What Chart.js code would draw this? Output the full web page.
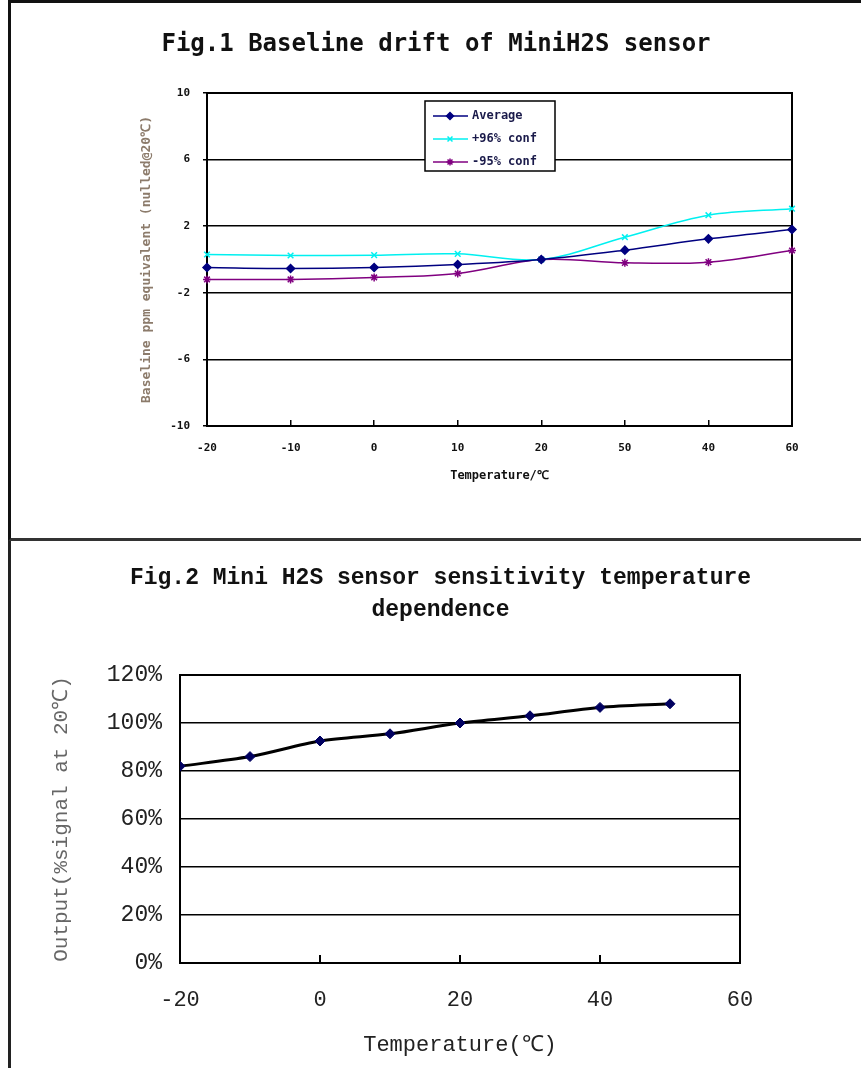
<!DOCTYPE html>
<html>
<head>
<meta charset="utf-8">
<title>MiniH2S sensor charts</title>
<script src="https://cdn.jsdelivr.net/npm/chart.js@4.4.1/dist/chart.umd.min.js"></script>
<style>
  body { margin: 0; background: #fff; width: 861px; height: 1068px; position: relative; overflow: hidden; }
  .box { position: absolute; left: 8px; right: 0; }
  #box1 { top: 0; height: 535px; border-top: 3px solid #111; border-left: 3px solid #111; border-bottom: 3px solid #333; }
  #box2 { top: 541px; bottom: 0; border-left: 3px solid #222; }
  .wrap { position: absolute; left: 0; width: 861px; }
  #wrap1 { top: 0; height: 536px; }
  #wrap2 { top: 541px; height: 527px; }
</style>
</head>
<body>
<div class="box" id="box1"></div>
<div class="box" id="box2"></div>
<div class="wrap" id="wrap1"><canvas id="fig1"></canvas></div>
<div class="wrap" id="wrap2"><canvas id="fig2"></canvas></div>
<script>
// --- Fig.1 data ---
const fig1Temps = ['-20', '-10', '0', '10', '20', '50', '40', '60'];
const fig1Average = [-0.48, -0.54, -0.48, -0.30, 0, 0.56, 1.24, 1.80];
const fig1Plus = [0.30, 0.24, 0.26, 0.34, 0, 1.34, 2.66, 3.05];
const fig1Minus = [-1.20, -1.20, -1.08, -0.84, 0, -0.20, -0.16, 0.54];
const fig1Names = ['Average', '+96% conf', '-95% conf'];

// --- Fig.2 data ---
const fig2Temps = [-20, -10, 0, 10, 20, 30, 40, 50];
const fig2Output = [82, 86, 92.5, 95.5, 100, 103, 106.5, 108];

const mono1 = "'DejaVu Sans Mono', monospace";
const mono2 = "'Liberation Mono', 'DejaVu Sans Mono', monospace";

// box round the plot area
const framePlugin = {
    id: 'frame',
    beforeDatasetsDraw(chart) {
        const a = chart.chartArea;
        const ctx = chart.ctx;
        ctx.save();
        ctx.strokeStyle = '#000';
        ctx.lineWidth = 2;
        ctx.strokeRect(a.left, a.top, a.right - a.left, a.bottom - a.top);
        ctx.restore();
    }
};

// legend drawn inside the plot, as in the original
const boxLegend = {
    id: 'boxLegend',
    afterDraw(chart) {
        const ctx = chart.ctx;
        const a = chart.chartArea;
        const x = a.left + 218, y = a.top + 8, w = 130, h = 70;
        ctx.save();
        ctx.fillStyle = '#fff';
        ctx.fillRect(x, y, w, h);
        ctx.strokeStyle = '#000';
        ctx.lineWidth = 1.5;
        ctx.strokeRect(x, y, w, h);
        chart.data.datasets.forEach((ds, i) => {
            const cy = y + 15 + i * 23;
            ctx.strokeStyle = ds.borderColor;
            ctx.fillStyle = ds.borderColor;
            ctx.lineWidth = 1.5;
            ctx.beginPath();
            ctx.moveTo(x + 8, cy);
            ctx.lineTo(x + 43, cy);
            ctx.stroke();
            Chart.helpers.drawPoint(ctx, { pointStyle: ds.pointStyle, radius: 3.5, borderWidth: 1.5, rotation: 0 }, x + 25, cy);
            ctx.fillStyle = '#1a1a4a';
            ctx.font = "bold 12px " + mono1;
            ctx.textBaseline = 'middle';
            ctx.textAlign = 'left';
            ctx.fillText(ds.label, x + 47, cy);
        });
        ctx.restore();
    }
};

// empty axis on the right, only there to keep room so the title centres on the page
function spacerAxis(w) {
    return {
        position: 'right',
        display: true,
        grid: { display: false },
        border: { display: false },
        ticks: { display: false },
        afterFit(s) { s.width = w; }
    };
}

function makeSeries(label, data, color, style) {
    return {
        label: label,
        data: data,
        borderColor: color,
        backgroundColor: color,
        borderWidth: 1.5,
        tension: 0.35,
        pointStyle: style,
        pointRadius: 4,
        pointBorderWidth: 1.5,
        pointBackgroundColor: color,
        pointBorderColor: color
    };
}

new Chart(document.getElementById('fig1'), {
    type: 'line',
    data: {
        labels: fig1Temps,
        datasets: [
            makeSeries(fig1Names[0], fig1Average, '#000080', 'rectRot'),
            makeSeries(fig1Names[1], fig1Plus, '#00f0f0', 'crossRot'),
            makeSeries(fig1Names[2], fig1Minus, '#800080', 'star')
        ]
    },
    options: {
        responsive: true,
        maintainAspectRatio: false,
        animation: false,
        layout: { padding: { left: 11, right: 0, top: 0, bottom: 0 } },
        plugins: {
            legend: { display: false },
            tooltip: { enabled: false },
            title: {
                display: true,
                text: 'Fig.1 Baseline drift of MiniH2S sensor',
                color: '#111',
                font: { family: mono1, size: 24, weight: 'bold', lineHeight: 1.2 },
                padding: { top: 30.5, bottom: 33.7 }
            }
        },
        scales: {
            x: {
                type: 'category',
                offset: false,
                grid: { drawOnChartArea: false, drawTicks: true, tickLength: -6, color: '#000', lineWidth: 1.5 },
                border: { color: '#000', width: 2 },
                ticks: { padding: 22, color: '#111', maxRotation: 0, autoSkip: false,
                         font: { family: mono1, size: 11, weight: 'bold' } },
                title: { display: true, text: 'Temperature/℃', color: '#111',
                         font: { family: mono1, size: 12, weight: 'bold', lineHeight: 1.2 },
                         padding: { top: 53, bottom: 53 } },
                afterFit(s) { s.height = 110; }
            },
            y: {
                min: -10,
                max: 10,
                grid: { color: '#000', lineWidth: 1.5, tickLength: 4 },
                border: { color: '#000', width: 2 },
                ticks: { stepSize: 4, padding: 13, color: '#111',
                         font: { family: mono1, size: 11, weight: 'bold' } },
                title: { display: true, text: 'Baseline ppm equivalent (nulled@20℃)', color: '#8c7b6b',
                         font: { family: mono1, size: 13, weight: 'bold', lineHeight: 1.2 },
                         padding: { top: 128, bottom: 128 } },
                afterFit(s) { s.width = 196; }
            },
            yPad: spacerAxis(69)
        }
    },
    plugins: [framePlugin, boxLegend]
});

new Chart(document.getElementById('fig2'), {
    type: 'line',
    data: {
        datasets: [{
            label: 'Output',
            data: fig2Temps.map((t, i) => ({ x: t, y: fig2Output[i] })),
            borderColor: '#000',
            borderWidth: 3,
            tension: 0.3,
            pointStyle: 'rectRot',
            pointRadius: 5,
            pointBackgroundColor: '#000060',
            pointBorderColor: '#000060',
            pointBorderWidth: 1,
            yAxisID: 'y'
        }]
    },
    options: {
        responsive: true,
        maintainAspectRatio: false,
        animation: false,
        layout: { padding: { left: 20, right: 0, top: 0, bottom: 0 } },
        plugins: {
            legend: { display: false },
            tooltip: { enabled: false },
            title: {
                display: true,
                text: ['Fig.2 Mini H2S sensor sensitivity temperature', 'dependence'],
                color: '#111',
                font: { family: mono2, size: 23, weight: 'bold', lineHeight: 32 / 23 },
                padding: { top: 21, bottom: 49 }
            }
        },
        scales: {
            x: {
                type: 'linear',
                min: -20,
                max: 60,
                grid: { drawOnChartArea: false, drawTicks: true, tickLength: -8, color: '#000', lineWidth: 2 },
                border: { color: '#000', width: 2 },
                ticks: { stepSize: 20, padding: 32, color: '#222',
                         font: { family: mono2, size: 22 } },
                title: { display: true, text: 'Temperature(℃)', color: '#222',
                         font: { family: mono2, size: 22, lineHeight: 1.2 },
                         padding: { top: 10, bottom: 10 } },
                afterFit(s) { s.height = 105; }
            },
            y: {
                min: 0,
                max: 120,
                grid: { color: '#000', lineWidth: 1.5, drawTicks: false },
                border: { color: '#000', width: 2 },
                ticks: { stepSize: 20, padding: 18, color: '#222',
                         font: { family: mono2, size: 23 },
                         callback: v => v + '%' },
                title: { display: true, text: 'Output(%signal at 20℃)', color: '#666',
                         font: { family: mono2, size: 21, lineHeight: 1.2 },
                         padding: { top: 29, bottom: 29 } },
                afterFit(s) { s.width = 160; }
            },
            yPad: spacerAxis(121)
        }
    },
    plugins: [framePlugin]
});
</script>
</body>
</html>
